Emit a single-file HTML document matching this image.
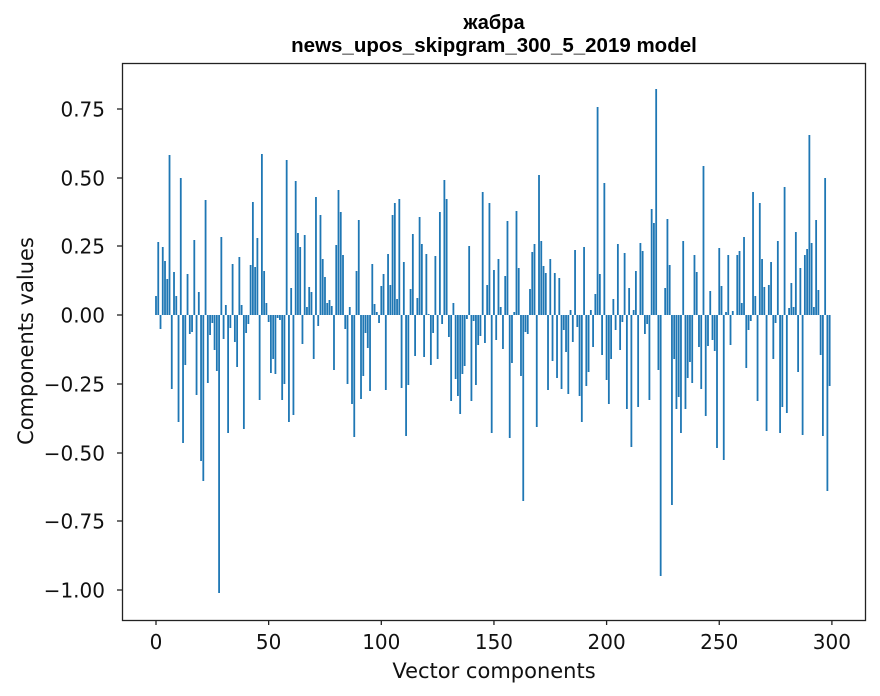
<!DOCTYPE html>
<html><head><meta charset="utf-8"><style>
body{margin:0;background:#fff;}
svg{display:block;font-family:"DejaVu Sans","Liberation Sans",sans-serif;}
</style></head><body>
<svg id="s" width="880" height="696" xmlns="http://www.w3.org/2000/svg">
<rect width="880" height="696" fill="#fff"/>
<text x="494" y="29" text-anchor="middle" font-size="20" font-weight="bold" font-family="Liberation Sans, sans-serif">жабра</text>
<text x="494" y="52" text-anchor="middle" font-size="20.5" font-weight="bold" font-family="Liberation Sans, sans-serif">news_upos_skipgram_300_5_2019 model</text>
<g id="bars" fill="#1f77b4"></g>
<rect x="122.5" y="63.5" width="743" height="557" fill="none" stroke="#222" stroke-width="1.3"/>
<g id="ticks" stroke="#222" stroke-width="1.3"></g>
<g id="labels" font-size="20" fill="#111"></g>
<text x="494" y="678" text-anchor="middle" font-size="21" fill="#111">Vector components</text>
<text transform="translate(33,341) rotate(-90)" text-anchor="middle" font-size="21" fill="#111">Components values</text>
</svg>
<script>
var h=[19,73,-14,68,54,36,160,-74,43,19,-107,137,-128,-50,41,-19,-17,75,-80,23,-146,-166,115,-68,-20,-8,-35,-56,-278,78,-24,10,-118,-13,51,-27,-52,58,10,-114,-18,-9,50,113,48,77,-85,161,44,12,
-7,-58,-44,-59,-3,-5,-85,-69,155,-107,27,-100,134,82,68,-29,80,8,28,23,-44,118,-11,100,56,38,12,15,9,-55,70,125,103,60,-14,-69,8,-89,-122,44,95,-84,-61,-18,-33,-76,51,11,3,-8,
29,41,-75,61,30,100,112,16,116,-73,53,-121,-70,26,81,-41,17,98,71,-42,61,1,-50,-18,59,-44,103,-9,135,116,-22,-86,12,-64,-81,-99,-59,-51,-4,69,-86,-6,-70,-30,-21,123,-28,30,112,-118,
45,-25,56,8,-34,39,94,-123,-48,3,104,47,-61,-186,-17,-19,26,63,71,-112,140,74,49,42,-75,56,-46,42,-63,37,-74,-15,-37,-79,5,-27,65,-12,-81,-107,68,-71,-57,5,-32,21,208,41,-40,132,
-65,-89,-44,16,-15,71,-35,-7,62,-94,27,-132,5,44,-92,72,64,-19,-9,-85,106,92,226,-55,-261,0,27,96,50,-190,-44,-94,-82,-118,74,-94,-63,-47,-68,60,43,-32,-74,149,-101,-31,24,-25,-36,-133,
67,29,-145,3,60,-30,4,0,60,64,12,78,-53,-15,-6,123,19,-86,112,56,28,-116,30,53,-44,-8,74,-118,-92,128,-98,7,32,8,83,-57,47,-120,60,66,180,72,8,95,25,-40,-121,137,-176,-71];
var b=document.getElementById("bars"),s="";
for(var i=0;i<h.length;i++){var x=156+2.253*i-0.9,v=h[i];if(!v)continue;
s+='<rect x="'+x.toFixed(2)+'" y="'+(v>0?315-v:315)+'" width="1.8" height="'+Math.abs(v)+'"/>';}
b.innerHTML=s;
var t="",l="";
[0,50,100,150,200,250,300].forEach(function(k){var x=156+2.253*k;t+='<line x1="'+x+'" y1="620" x2="'+x+'" y2="625"/>';l+='<text x="'+x+'" y="649" text-anchor="middle">'+k+'</text>';});
[[0.75,109],[0.5,178],[0.25,246],[0,315],[-0.25,384],[-0.5,453],[-0.75,521],[-1,590]].forEach(function(p){
t+='<line x1="117" y1="'+p[1]+'" x2="122" y2="'+p[1]+'"/>';var lab=p[0].toFixed(2).replace("-","\u2212");
l+='<text x="105" y="'+(p[1]+7.5)+'" text-anchor="end">'+lab+'</text>';});
document.getElementById("ticks").innerHTML=t;document.getElementById("labels").innerHTML=l;
</script>
</body></html>
